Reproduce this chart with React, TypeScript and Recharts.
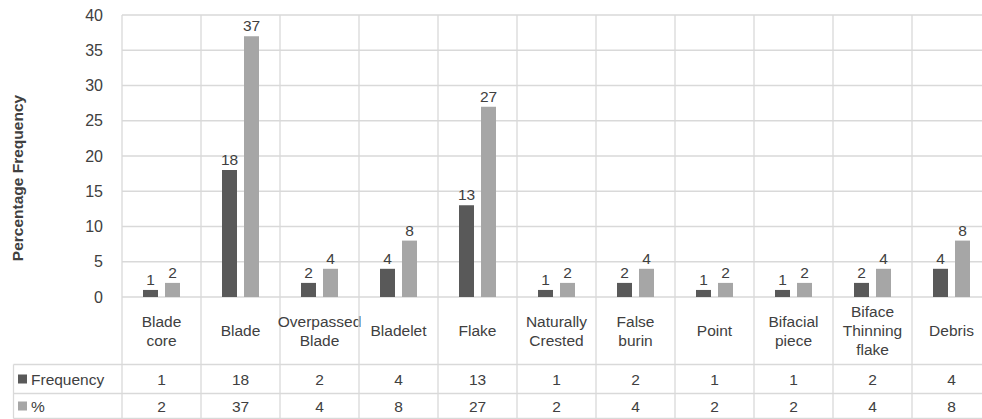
import React from 'react';
import { BarChart, Bar, XAxis, YAxis, CartesianGrid, LabelList } from 'recharts';

const categories = [
  'Blade core',
  'Blade',
  'Overpassed Blade',
  'Bladelet',
  'Flake',
  'Naturally Crested',
  'False burin',
  'Point',
  'Bifacial piece',
  'Biface Thinning flake',
  'Debris',
];
const categoryLines = [
  ['Blade', 'core'],
  ['Blade'],
  ['Overpassed', 'Blade'],
  ['Bladelet'],
  ['Flake'],
  ['Naturally', 'Crested'],
  ['False', 'burin'],
  ['Point'],
  ['Bifacial', 'piece'],
  ['Biface', 'Thinning', 'flake'],
  ['Debris'],
];
const frequency = [1, 18, 2, 4, 13, 1, 2, 1, 1, 2, 4];
const percent = [2, 37, 4, 8, 27, 2, 4, 2, 2, 4, 8];
const yTicks = [0, 5, 10, 15, 20, 25, 30, 35, 40];
const seriesNames = ['Frequency', '%'];

const data = categories.map((c, i) => ({ name: c, freq: frequency[i], pct: percent[i] }));

// layout
const W = 1000;
const H = 419;
const MARGIN = { top: 15, right: 9, left: 0, bottom: 0 };
const Y_AXIS_W = 122;
const X_AXIS_H = 122;
const PLOT_LEFT = MARGIN.left + Y_AXIS_W;
const PLOT_RIGHT = W - MARGIN.right;
const PLOT_TOP = MARGIN.top;
const PLOT_BOTTOM = H - MARGIN.bottom - X_AXIS_H;
const BAND = (PLOT_RIGHT - PLOT_LEFT) / categories.length;
const ROW1 = 364.5;
const ROW2 = 393.5;
const ROW3 = 418.5;
const TABLE_LEFT = 13.5;

const DARK = '#595959';
const LIGHT = '#a6a6a6';
const GRID = '#d9d9d9';
const TEXT = '#404040';
const FONT = '"Liberation Sans", Arial, sans-serif';
const FS = 15.5;
const LINE_H = 19;

const CategoryTick = (props: any) => {
  const { x, payload } = props;
  const i = payload.index;
  const left = x - BAND / 2;
  const right = x + BAND / 2;
  const lines = categoryLines[i];
  const midLabel = (PLOT_BOTTOM + ROW1) / 2;
  const startY = midLabel - ((lines.length - 1) * LINE_H) / 2;
  return (
    <g>
      <line x1={left} x2={left} y1={PLOT_TOP} y2={ROW3} stroke={GRID} strokeWidth={1.3} />
      {i === categories.length - 1 && (
        <line x1={right} x2={right} y1={PLOT_TOP} y2={ROW3} stroke={GRID} strokeWidth={1.3} />
      )}
      <line x1={left} x2={right} y1={ROW1} y2={ROW1} stroke={GRID} strokeWidth={1.3} />
      <line x1={left} x2={right} y1={ROW2} y2={ROW2} stroke={GRID} strokeWidth={1.3} />
      <line x1={left} x2={right} y1={ROW3} y2={ROW3} stroke={GRID} strokeWidth={1.3} />
      {lines.map((ln, k) => (
        <text
          key={k}
          x={x}
          y={startY + k * LINE_H}
          textAnchor="middle"
          dominantBaseline="central"
          fontSize={FS}
          fill={TEXT}
          fontFamily={FONT}
        >
          {ln}
        </text>
      ))}
      <text x={x} y={(ROW1 + ROW2) / 2} textAnchor="middle" dominantBaseline="central" fontSize={FS} fill={TEXT} fontFamily={FONT}>
        {frequency[i]}
      </text>
      <text x={x} y={(ROW2 + ROW3) / 2} textAnchor="middle" dominantBaseline="central" fontSize={FS} fill={TEXT} fontFamily={FONT}>
        {percent[i]}
      </text>
      {i === 0 && (
        <g>
          <line x1={TABLE_LEFT} x2={left} y1={ROW1} y2={ROW1} stroke={GRID} strokeWidth={1.3} />
          <line x1={TABLE_LEFT} x2={left} y1={ROW2} y2={ROW2} stroke={GRID} strokeWidth={1.3} />
          <line x1={TABLE_LEFT} x2={left} y1={ROW3} y2={ROW3} stroke={GRID} strokeWidth={1.3} />
          <line x1={TABLE_LEFT} x2={TABLE_LEFT} y1={ROW1} y2={ROW3} stroke={GRID} strokeWidth={1.3} />
          <rect x={18} y={(ROW1 + ROW2) / 2 - 4.5} width={9} height={9} fill={DARK} />
          <text x={31} y={(ROW1 + ROW2) / 2} dominantBaseline="central" fontSize={FS} fill={TEXT} fontFamily={FONT}>
            {seriesNames[0]}
          </text>
          <rect x={18} y={(ROW2 + ROW3) / 2 - 4.5} width={9} height={9} fill={LIGHT} />
          <text x={31} y={(ROW2 + ROW3) / 2} dominantBaseline="central" fontSize={FS} fill={TEXT} fontFamily={FONT}>
            {seriesNames[1]}
          </text>
        </g>
      )}
    </g>
  );
};

const YTitle = () => (
  <text
    x={17}
    y={178}
    transform="rotate(-90 17 178)"
    textAnchor="middle"
    dominantBaseline="central"
    fontSize={15.5}
    fontWeight="bold"
    fill={TEXT}
    fontFamily={FONT}
  >
    Percentage Frequency
  </text>
);

export default function App() {
  return (
    <div
      style={{
        position: 'absolute',
        left: 0,
        top: 0,
        width: 982,
        height: 419,
        overflow: 'hidden',
        background: '#ffffff',
      }}
    >
      <BarChart
        width={W}
        height={H}
        data={data}
        margin={MARGIN}
        barGap={7}
        style={{ fontFamily: FONT }}
      >
        <CartesianGrid vertical={false} stroke={GRID} strokeWidth={1.3} />
        <XAxis
          dataKey="name"
          height={X_AXIS_H}
          axisLine={false}
          tickLine={false}
          interval={0}
          tick={<CategoryTick />}
        />
        <YAxis
          width={Y_AXIS_W}
          domain={[0, 40]}
          ticks={yTicks}
          axisLine={false}
          tickLine={false}
          tickMargin={13}
          tick={{ fontSize: 16, fill: TEXT, fontFamily: FONT }}
          label={{ content: () => <YTitle /> }}
        />
        <Bar dataKey="freq" fill={DARK} barSize={15} isAnimationActive={false}>
          <LabelList dataKey="freq" position="top" offset={5} fontSize={FS} fill={TEXT} fontFamily={FONT} />
        </Bar>
        <Bar dataKey="pct" fill={LIGHT} barSize={15} isAnimationActive={false}>
          <LabelList dataKey="pct" position="top" offset={5} fontSize={FS} fill={TEXT} fontFamily={FONT} />
        </Bar>
      </BarChart>
    </div>
  );
}
